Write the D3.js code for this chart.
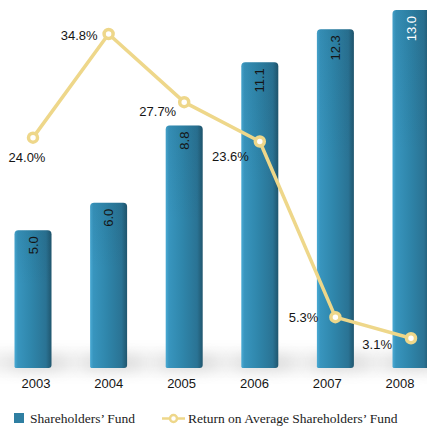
<!DOCTYPE html>
<html>
<head>
<meta charset="utf-8">
<script src="https://cdn.jsdelivr.net/npm/d3@7"></script>
<style>
  html, body { margin: 0; padding: 0; background: #ffffff; }
  svg { display: block; }
</style>
</head>
<body>
<svg id="chart" width="427" height="429"></svg>
<script>
// Shareholders' fund (bars) and return on average shareholders' fund (line)
const years = ["2003", "2004", "2005", "2006", "2007", "2008"];
const fundValues = [5.0, 6.0, 8.8, 11.1, 12.3, 13.0];
const returnValues = [24.0, 34.8, 27.7, 23.6, 5.3, 3.1];
const fundLabels = ["5.0", "6.0", "8.8", "11.1", "12.3", "13.0"];
const returnLabels = ["24.0%", "34.8%", "27.7%", "23.6%", "5.3%", "3.1%"];
const legendLabels = ["Shareholders\u2019 Fund", "Return on Average Shareholders\u2019 Fund"];

const svg = d3.select("#chart");
const W = 427, H = 429;
const baseY = 368;

const x = d3.scalePoint().domain(years).range([33, 411]);
const xLabel = d3.scalePoint().domain(years).range([36, 400]);
const yBar = d3.scaleLinear().domain([0, 13.36]).range([baseY, 0]);
const yLine = d3.scaleLinear().domain([0, 34.8]).range([baseY, 34]);
const barW = 37;

const defs = svg.append("defs");
const grad = defs.append("linearGradient").attr("id", "barGrad")
  .attr("x1", "0%").attr("x2", "100%").attr("y1", "0%").attr("y2", "0%");
[["0%", "#4aaad4"], ["9%", "#3895be"], ["45%", "#2f86ab"], ["85%", "#2a7394"], ["100%", "#20566e"]]
  .forEach(([o, c]) => grad.append("stop").attr("offset", o).attr("stop-color", c));

const vGrad = defs.append("linearGradient").attr("id", "barShade")
  .attr("x1", "0%").attr("x2", "0%").attr("y1", "0%").attr("y2", "100%");
[["0%", "#0d2f40", 0.08], ["40%", "#0d2f40", 0.0], ["100%", "#0d2f40", 0.0]]
  .forEach(([o, c, a]) => vGrad.append("stop").attr("offset", o).attr("stop-color", c).attr("stop-opacity", a));

const blur = defs.append("filter").attr("id", "soft")
  .attr("x", "-50%").attr("y", "-200%").attr("width", "200%").attr("height", "500%");
blur.append("feGaussianBlur").attr("stdDeviation", 7);

// soft floor shadow under the bars
svg.append("rect")
  .attr("x", -20).attr("y", baseY - 16).attr("width", W + 40).attr("height", 20)
  .attr("fill", "#d6d6d6").attr("opacity", 0.4).attr("filter", "url(#soft)");

svg.append("g").selectAll("ellipse").data(years).join("ellipse")
  .attr("cx", d => x(d) + 4).attr("cy", baseY - 5)
  .attr("rx", barW * 0.85).attr("ry", 8)
  .attr("fill", "#b0b0b0").attr("opacity", 0.3).attr("filter", "url(#soft)");

// bars
const bars = svg.append("g");
bars.selectAll("path.bar").data(fundValues).join("path")
  .attr("class", "bar")
  .attr("d", (v, i) => {
    const x0 = x(years[i]) - barW / 2, x1 = x0 + barW;
    const top = yBar(v), r = 4;
    return `M${x0},${baseY - 1} L${x0},${top + r} Q${x0},${top} ${x0 + r},${top} ` +
           `L${x1 - r},${top} Q${x1},${top} ${x1},${top + r} L${x1},${baseY - 3} Q${x1},${baseY} ${x1 - 3},${baseY} L${x0 + 1},${baseY} Z`;
  })
  .attr("fill", "url(#barGrad)");

bars.selectAll("rect.top").data(fundValues).join("rect")
  .attr("class", "top")
  .attr("x", (v, i) => x(years[i]) - barW / 2)
  .attr("y", v => yBar(v))
  .attr("width", barW)
  .attr("height", v => baseY - yBar(v))
  .attr("rx", 4)
  .attr("fill", "url(#barShade)");

// bar values, rotated along the bar
bars.selectAll("text").data(fundLabels).join("text")
  .attr("transform", (t, i) => `translate(${x(years[i])},${yBar(fundValues[i]) + 6}) rotate(-90)`)
  .attr("text-anchor", "end")
  .attr("dy", "0.35em")
  .attr("font-family", "Liberation Sans, Arial, sans-serif")
  .attr("font-size", 13)
  .attr("fill", (t, i) => i === fundLabels.length - 1 ? "#ffffff" : "#151515")
  .text(t => t);

// year labels
svg.append("g").selectAll("text").data(years).join("text")
  .attr("x", d => xLabel(d)).attr("y", 388)
  .attr("text-anchor", "middle")
  .attr("font-family", "Liberation Sans, Arial, sans-serif")
  .attr("font-size", 13)
  .attr("fill", "#151515")
  .text(d => d);

// return line
const lineColor = "#eed78a";
const line = d3.line().x((v, i) => x(years[i])).y(v => yLine(v));
svg.append("path")
  .datum(returnValues)
  .attr("d", line)
  .attr("fill", "none")
  .attr("stroke", lineColor)
  .attr("stroke-width", 3.5)
  .attr("stroke-linejoin", "round");

svg.append("g").selectAll("circle").data(returnValues).join("circle")
  .attr("cx", (v, i) => x(years[i])).attr("cy", v => yLine(v))
  .attr("r", 4.5)
  .attr("fill", "#ffffff")
  .attr("stroke", lineColor)
  .attr("stroke-width", 3.5);

// return labels placed beside each point
const labelOffsets = [[-6, 24, "middle"], [-11, 6, "end"], [-8, 14, "end"], [-11, 20, "end"], [-17, 5, "end"], [-19, 11, "end"]];
svg.append("g").selectAll("text").data(returnLabels).join("text")
  .attr("x", (t, i) => x(years[i]) + labelOffsets[i][0])
  .attr("y", (t, i) => yLine(returnValues[i]) + labelOffsets[i][1])
  .attr("text-anchor", (t, i) => labelOffsets[i][2])
  .attr("font-family", "Liberation Sans, Arial, sans-serif")
  .attr("font-size", 13)
  .attr("fill", "#151515")
  .text(t => t);

// legend
const legend = svg.append("g");
legend.append("rect").attr("x", 14).attr("y", 413).attr("width", 10).attr("height", 10).attr("fill", "#2f7fa2");
legend.append("text").attr("x", 30).attr("y", 423)
  .attr("font-family", "Liberation Serif, Times New Roman, serif").attr("font-size", 13.5).attr("fill", "#222")
  .text(legendLabels[0]);
legend.append("line").attr("x1", 162).attr("x2", 185).attr("y1", 418.5).attr("y2", 418.5)
  .attr("stroke", lineColor).attr("stroke-width", 2.5);
legend.append("circle").attr("cx", 173.5).attr("cy", 418.5).attr("r", 3.5)
  .attr("fill", "#fff").attr("stroke", lineColor).attr("stroke-width", 2.5);
legend.append("text").attr("x", 188).attr("y", 423)
  .attr("font-family", "Liberation Serif, Times New Roman, serif").attr("font-size", 13.5).attr("fill", "#222")
  .text(legendLabels[1]);
</script>
</body>
</html>
